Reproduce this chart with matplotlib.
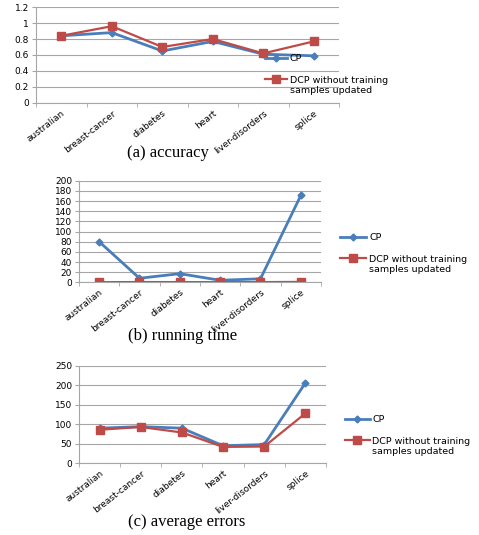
import numpy as np
import matplotlib
matplotlib.use("Agg")
import matplotlib.pyplot as plt

datasets = ["australian", "breast-cancer", "diabetes", "heart", "liver-disorders", "splice"]

acc_cp = [0.84, 0.88, 0.65, 0.77, 0.61, 0.59]
acc_dcp = [0.84, 0.96, 0.70, 0.80, 0.62, 0.77]

time_cp = [80, 8, 17, 4, 7, 171]
time_dcp = [0.3, 0.5, 0.4, 0.3, 0.4, 0.8]

err_cp = [90, 94, 90, 45, 48, 206]
err_dcp = [86, 93, 79, 42, 43, 128]

blue = "#4a7ebb"
red = "#be4b48"
grid_c = "#a6a6a6"

fig = plt.figure(figsize=(4.79, 5.35), dpi=100)
legends = []


def panel(rect, cp, dcp, ymax, ystep, yfmt, caption, cap_xy, leg_xy, hlen):
    ax = fig.add_axes(rect)
    x = np.arange(len(datasets))
    l1, = ax.plot(x, cp, color=blue, lw=2, marker="D", ms=3.5, label="CP")
    l2, = ax.plot(x, dcp, color=red, lw=1.6, marker="s", ms=6,
                  label="DCP without training")
    ax.set_xlim(-0.5, len(datasets) - 0.5)
    ax.set_ylim(0, ymax)
    yt = np.arange(0, ymax + ystep / 2, ystep)
    ax.set_yticks(yt)
    ax.set_yticklabels([yfmt(v) for v in yt], fontsize=6.5)
    ax.yaxis.grid(True, color=grid_c, lw=0.8)
    ax.set_axisbelow(True)
    ax.set_xticks(x)
    ax.set_xticklabels(datasets, rotation=38, ha="right", fontsize=6.5,
                       rotation_mode="anchor")
    ax.set_xticks(np.arange(-0.5, len(datasets)), minor=True)
    ax.tick_params(axis="x", which="major", length=0, pad=4)
    ax.tick_params(axis="x", which="minor", length=3, color=grid_c)
    ax.tick_params(axis="y", length=3, color=grid_c, pad=2)
    for s in ["top", "right"]:
        ax.spines[s].set_visible(False)
    for s in ["left", "bottom"]:
        ax.spines[s].set_color(grid_c)
    leg = fig.legend(handles=[l1, l2], loc="upper left",
                     bbox_to_anchor=(leg_xy[0] / 479, 1 - leg_xy[1] / 535),
                     frameon=False, fontsize=6.8, labelspacing=1.35,
                     handlelength=hlen, handletextpad=0.3, borderaxespad=0,
                     borderpad=0)
    legends.append(leg)
    fig.text(cap_xy[0] / 479, 1 - cap_xy[1] / 535, caption, ha="center",
             va="center", fontsize=12, family="Liberation Serif")
    return ax


def fmt_acc(v):
    s = "%.1f" % v
    return s[:-2] if s.endswith(".0") else s


panel([0.0752, 0.8075, 0.6326, 0.1794], acc_cp, acc_dcp, 1.2, 0.2, fmt_acc,
      "(a) accuracy", (168, 153), (265, 54), 2.3)
panel([0.1649, 0.4723, 0.5052, 0.1899], time_cp, time_dcp, 200, 20,
      lambda v: "%d" % v, "(b) running time", (183, 336), (340, 233), 2.8)
panel([0.1649, 0.1340, 0.5157, 0.1824], err_cp, err_dcp, 250, 50,
      lambda v: "%d" % v, "(c) average errors", (187, 522), (345, 415), 2.6)

# second line of the DCP legend label, under the first line
fig.canvas.draw()
for leg in legends:
    bb = leg.get_texts()[1].get_window_extent()
    x0, y0 = fig.transFigure.inverted().transform((bb.x0, bb.y0))
    fig.text(x0, y0 - 0.002, "samples updated", ha="left", va="top",
             fontsize=6.8)

fig.savefig("out.png", dpi=100)
